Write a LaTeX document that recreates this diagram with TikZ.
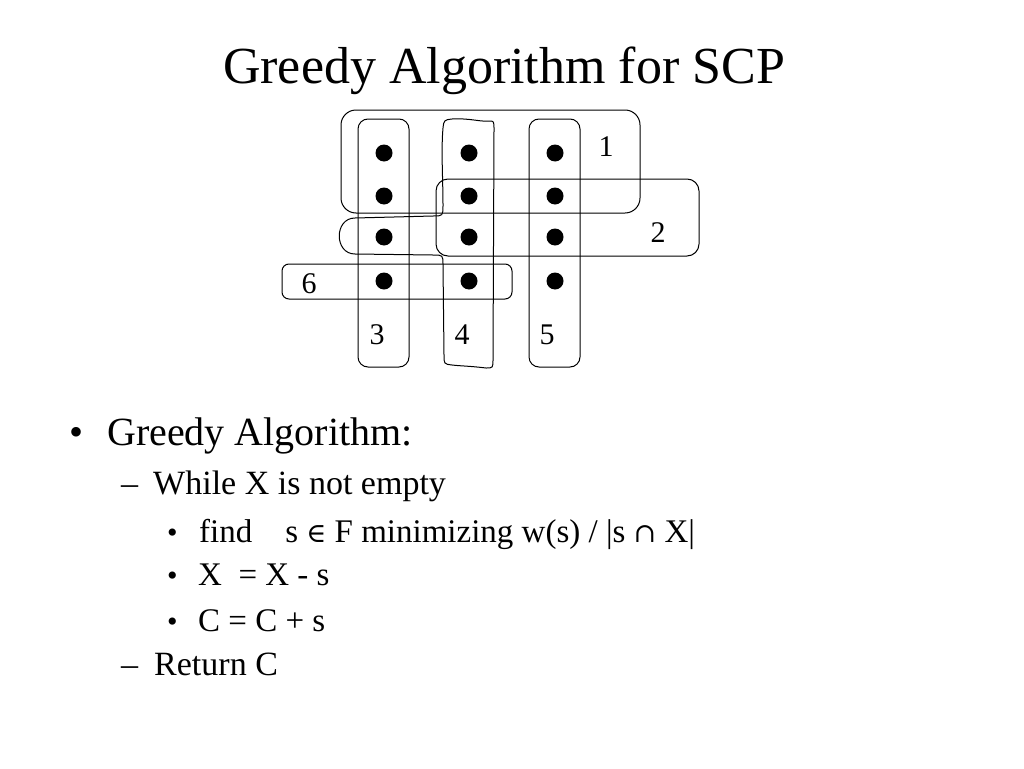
\documentclass[tikz,border=0pt]{standalone}
\usepackage{fontspec}
\setmainfont{Liberation Serif}
\newfontfamily\symfam{DejaVu Serif}

\begin{document}
\begin{tikzpicture}[x=1pt, y=-1pt,
  dot/.style={circle, fill=black, inner sep=0pt, minimum size=17pt},
  setline/.style={line width=1pt},
  setnum/.style={font=\fontsize{30}{32}\selectfont, inner sep=0pt},
  txt/.style={anchor=base west, inner sep=0pt}]
  \useasboundingbox (0,0) rectangle (1024,768);

  \node (title) at (504,83) [anchor=base, inner sep=0pt, font=\fontsize{52}{60}\selectfont] {Greedy Algorithm for SCP};

  \draw [setline, rounded corners=15pt] (341,110) rectangle (640,213);
  \draw [setline, rounded corners=12pt] (436,179) rectangle (699,256);
  \draw [setline, rounded corners=7pt] (282,264) rectangle (512,299);
  \draw [setline, rounded corners=10pt] (358,119) rectangle (409,367);
  \draw [setline, rounded corners=10pt] (529,119) rectangle (580,367);
  \draw [setline] (452,119) .. controls (470,118) and (480,122) .. (489,121)
    .. controls (494,121) .. (494,130) -- (493,359)
    .. controls (493,368) .. (486,368)
    .. controls (470,366) and (460,366) .. (452,365)
    .. controls (444,364) .. (444,355) -- (443,265)
    .. controls (443,255) .. (433,255) -- (355,254)
    .. controls (334,254) and (334,218) .. (355,218) -- (433,216)
    .. controls (443,216) .. (443,205)
    .. controls (443,180) and (441,150) .. (443,128)
    .. controls (444,120) .. (452,119) -- cycle;

  \node (d31) at (384,153) [dot] {};
  \node (d32) at (384,196) [dot] {};
  \node (d33) at (384,237) [dot] {};
  \node (d34) at (384,281) [dot] {};
  \node (d41) at (469,153) [dot] {};
  \node (d42) at (469,196) [dot] {};
  \node (d43) at (469,237) [dot] {};
  \node (d44) at (469,281) [dot] {};
  \node (d51) at (555,153) [dot] {};
  \node (d52) at (555,196) [dot] {};
  \node (d53) at (555,237) [dot] {};
  \node (d54) at (555,281) [dot] {};

  \node (s1) at (606,147) [setnum] {1};
  \node (s2) at (658,233) [setnum] {2};
  \node (s6) at (309,284) [setnum] {6};
  \node (s3) at (377,335) [setnum] {3};
  \node (s4) at (462,335) [setnum] {4};
  \node (s5) at (547,335) [setnum] {5};

  \node (b1) at (69,445) [txt, font=\fontsize{40}{42}\selectfont] {•};
  \node (l1) at (107,445) [txt, font=\fontsize{40}{42}\selectfont] {Greedy Algorithm:};
  \node (b2) at (121,494) [txt, font=\fontsize{34}{36}\selectfont] {–};
  \node (l2) at (153,494) [txt, font=\fontsize{34}{36}\selectfont] {While X is not empty};
  \node (b3) at (167,542) [txt, font=\fontsize{30}{32}\selectfont] {•};
  \node (l3) at (199,542) [txt, font=\fontsize{33}{35}\selectfont] {find\ \ \ \ s {\symfam\fontsize{27}{28}\selectfont ∈} F minimizing w(s) / |s {\symfam\fontsize{27}{28}\selectfont ∩} X|};
  \node (b4) at (167,585) [txt, font=\fontsize{30}{32}\selectfont] {•};
  \node (l4) at (198,585) [txt, font=\fontsize{33}{35}\selectfont] {X\ \ = X - s};
  \node (b5) at (167,631) [txt, font=\fontsize{30}{32}\selectfont] {•};
  \node (l5) at (198,631) [txt, font=\fontsize{33}{35}\selectfont] {C = C + s};
  \node (b6) at (121,675) [txt, font=\fontsize{34}{36}\selectfont] {–};
  \node (l6) at (154,675) [txt, font=\fontsize{34}{36}\selectfont] {Return C};
\end{tikzpicture}
\end{document}
